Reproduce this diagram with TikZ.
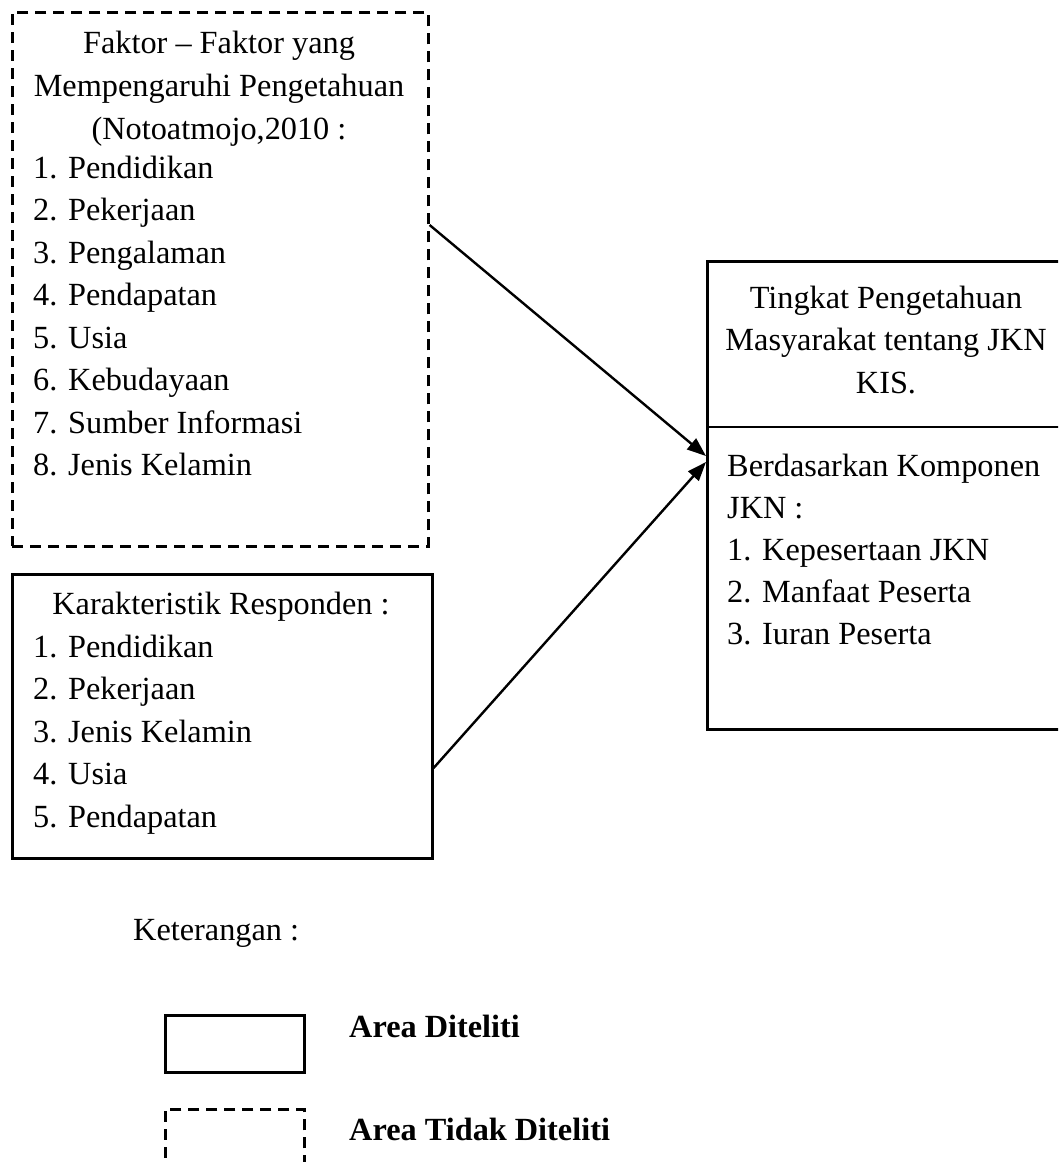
\documentclass[tikz,border=0pt]{standalone}
\usepackage{fontspec}
\setmainfont{Liberation Serif}
\usetikzlibrary{arrows.meta,calc}
\begin{document}
\begin{tikzpicture}[x=1pt,y=-1pt,
  box/.style={draw,line width=2.6pt,rectangle,inner sep=0pt,anchor=north west},
  dbox/.style={box,dash pattern=on 11pt off 7pt},
  txt/.style={inner sep=0pt,anchor=base west,font=\fontsize{32.3}{42.5}\selectfont},
  ctxt/.style={txt,anchor=base},
  btxt/.style={txt,font=\fontsize{32.3}{42.5}\selectfont\bfseries},
  arr/.style={line width=2.4pt,-{Triangle[length=19pt,width=14pt]}}]
\useasboundingbox (0,0) rectangle (1058,1162);
\clip (0,0) rectangle (1058,1162);
% boxes
\node[dbox,minimum width=416pt,minimum height=534pt] (faktor) at (11,11) {};
\node[box,minimum width=420pt,minimum height=284pt] (kar) at (11,573) {};
\node[box,minimum width=370pt,minimum height=468pt] (tingkat) at (706,260) {};
\draw[line width=2.6pt] (tingkat.north west) ++(0,167) coordinate (divL) -- (divL -| tingkat.east) coordinate (divR);
% faktor text
\node[ctxt] (f1) at (219,53) {Faktor -- Faktor yang};
\node[ctxt] (f2) at (219,96) {Mempengaruhi Pengetahuan};
\node[ctxt] (f3) at (219,139) {(Notoatmojo,2010 :};
\foreach \t [count=\i] in {1. Pendidikan,2. Pekerjaan,3. Pengalaman,4. Pendapatan,5. Usia,6. Kebudayaan,7. Sumber Informasi,8. Jenis Kelamin}
  \node[txt] (fl\i) at (33,{178+(\i-1)*42.5}) {\t};
% karakteristik text
\node[ctxt] (k0) at (221,614) {Karakteristik Responden :};
\foreach \t [count=\i] in {1. Pendidikan,2. Pekerjaan,3. Jenis Kelamin,4. Usia,5. Pendapatan}
  \node[txt] (kl\i) at (33,{657+(\i-1)*42.5}) {\t};
% tingkat text
\node[ctxt] (t1) at (886,308) {Tingkat Pengetahuan};
\node[ctxt] (t2) at (886,350) {Masyarakat tentang JKN};
\node[ctxt] (t3) at (886,393) {KIS.};
\foreach \t [count=\i] in {Berdasarkan Komponen,JKN :,1. Kepesertaan JKN,2. Manfaat Peserta,3. Iuran Peserta}
  \node[txt] (tl\i) at (727,{476+(\i-1)*42}) {\t};
% arrows
\coordinate (fa) at (faktor.east |- 0,225);
\coordinate (ka) at (kar.east |- 0,768);
\coordinate (ta1) at (tingkat.west |- 0,456);
\coordinate (ta2) at (tingkat.west |- 0,462);
\draw[arr] (fa) -- (ta1);
\draw[arr] (ka) -- (ta2);
% legend
\node[txt] (ket) at (133,940) {Keterangan :};
\node[box,minimum width=139pt,minimum height=57pt] (lg1) at (164,1014) {};
\node[dbox,minimum width=139pt,minimum height=80pt] (lg2) at (164,1108) {};
\node[btxt] (lt1) at (349,1037) {Area Diteliti};
\node[btxt] (lt2) at (349,1140) {Area Tidak Diteliti};
\end{tikzpicture}
\end{document}
